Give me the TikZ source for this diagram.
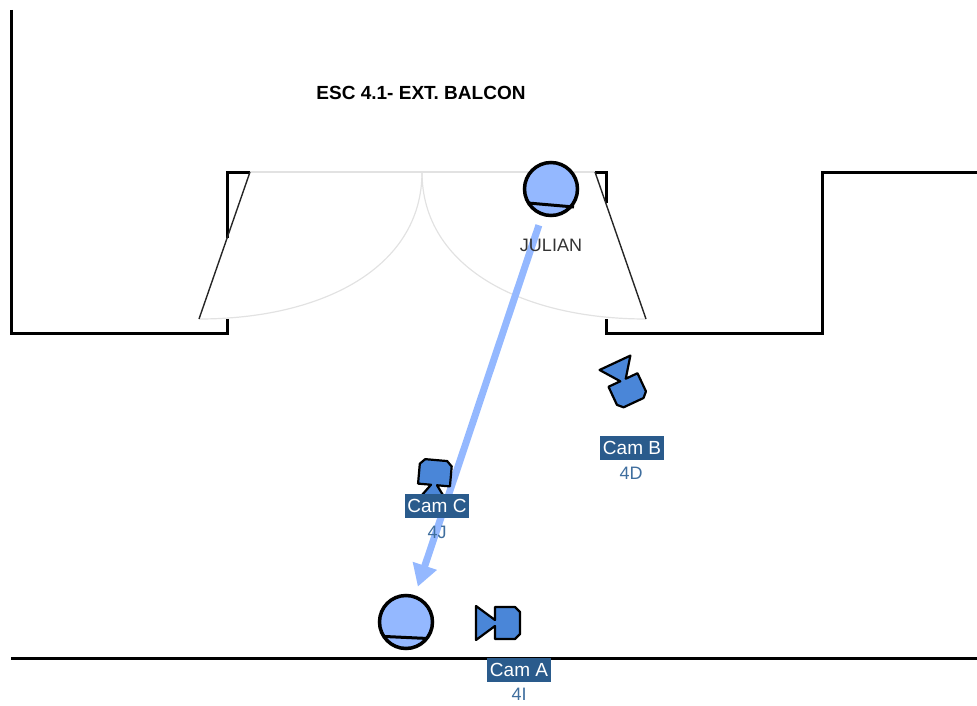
\documentclass[tikz,border=0pt]{standalone}
\usepackage{fontspec}
\usepackage{tikz}
\usetikzlibrary{arrows.meta}
\setmainfont{Liberation Sans}

\definecolor{figblue}{HTML}{94B8FF}
\definecolor{cambody}{HTML}{4A86D8}
\definecolor{cambox}{HTML}{2A5B8C}
\definecolor{camtext}{HTML}{3F6E9E}
\definecolor{doorgray}{HTML}{E2E2E2}

\tikzset{
    wall/.style={line width=3pt, black},
    leaf/.style={line width=1.4pt, black!85},
    swing/.style={line width=1.2pt, doorgray},
    figure/.style={circle, draw=black, line width=3.5pt, fill=figblue, minimum size=53pt, inner sep=0pt},
    cambadge/.style={fill=cambox, text=white, font=\fontsize{19}{21}\selectfont, minimum width=64pt, minimum height=24pt, inner sep=0pt},
    camid/.style={text=camtext, font=\fontsize{18}{20}\selectfont, inner sep=0pt},
    camshape/.pic={
        \draw[fill=cambody, line width=2.2pt, line join=round] (-19,-17) -- (0,-3) -- (0,-16) -- (20,-16) -- (25,-11) -- (25,11) -- (20,16) -- (0,16) -- (0,3) -- (-19,17) -- cycle;
    }
}

\begin{document}
\begin{tikzpicture}[x=1pt, y=-1pt]
    \useasboundingbox (0,0) rectangle (977,706);

    \draw[wall] (11,10) -- (11,333) -- (227,333) -- (227,319);
    \draw[wall] (227,238) -- (227,172) -- (250,172);
    \draw[wall] (595,172) -- (606,172) -- (606,203);
    \draw[wall] (606,319) -- (606,333) -- (822,333) -- (822,172) -- (977,172);
    \draw[line width=3pt] (11,658) -- (977,658);

    \draw[swing] (250,172) -- (595,172);
    \draw[swing] (199,319) .. controls (322,319) and (422,268) .. (422,172);
    \draw[swing] (646,319) .. controls (523,319) and (422,268) .. (422,172);
    \draw[leaf] (250,172) -- (199,319);
    \draw[leaf] (595,172) -- (646,319);

    \node (title) at (421,93) {\fontsize{19}{21}\selectfont\bfseries ESC 4.1- EXT. BALCON};

    \node (julian) [figure] at (551,189) {};
    \node (extra) [figure] at (406,622) {};
    \draw[line width=3pt] (528,203) -- (574,207);
    \draw[line width=3pt] (385,636.5) -- (428,638.5);

    \draw[line width=7pt, figblue, shorten <=10pt, shorten >=9pt, -{Triangle[length=22pt, width=24pt]}] (julian) -- (extra);

    \node (julianname) [text=black!80, font=\fontsize{18}{20}\selectfont, inner sep=0pt] at (551,245) {JULIAN};

    \pic[rotate=0] at (495,623) {camshape};
    \pic[rotate=-65] at (623,380) {camshape};
    \pic[rotate=85] at (434,485) {camshape};

    \node (cama) [cambadge] at (519,670) {Cam A};
    \node (camb) [cambadge] at (632,448) {Cam B};
    \node (camc) [cambadge] at (437,506) {Cam C};
    \node (camaid) [camid] at (519,694) {4I};
    \node (cambid) [camid] at (631,473) {4D};
    \node (camcid) [camid] at (437,532) {4J};
\end{tikzpicture}
\end{document}
